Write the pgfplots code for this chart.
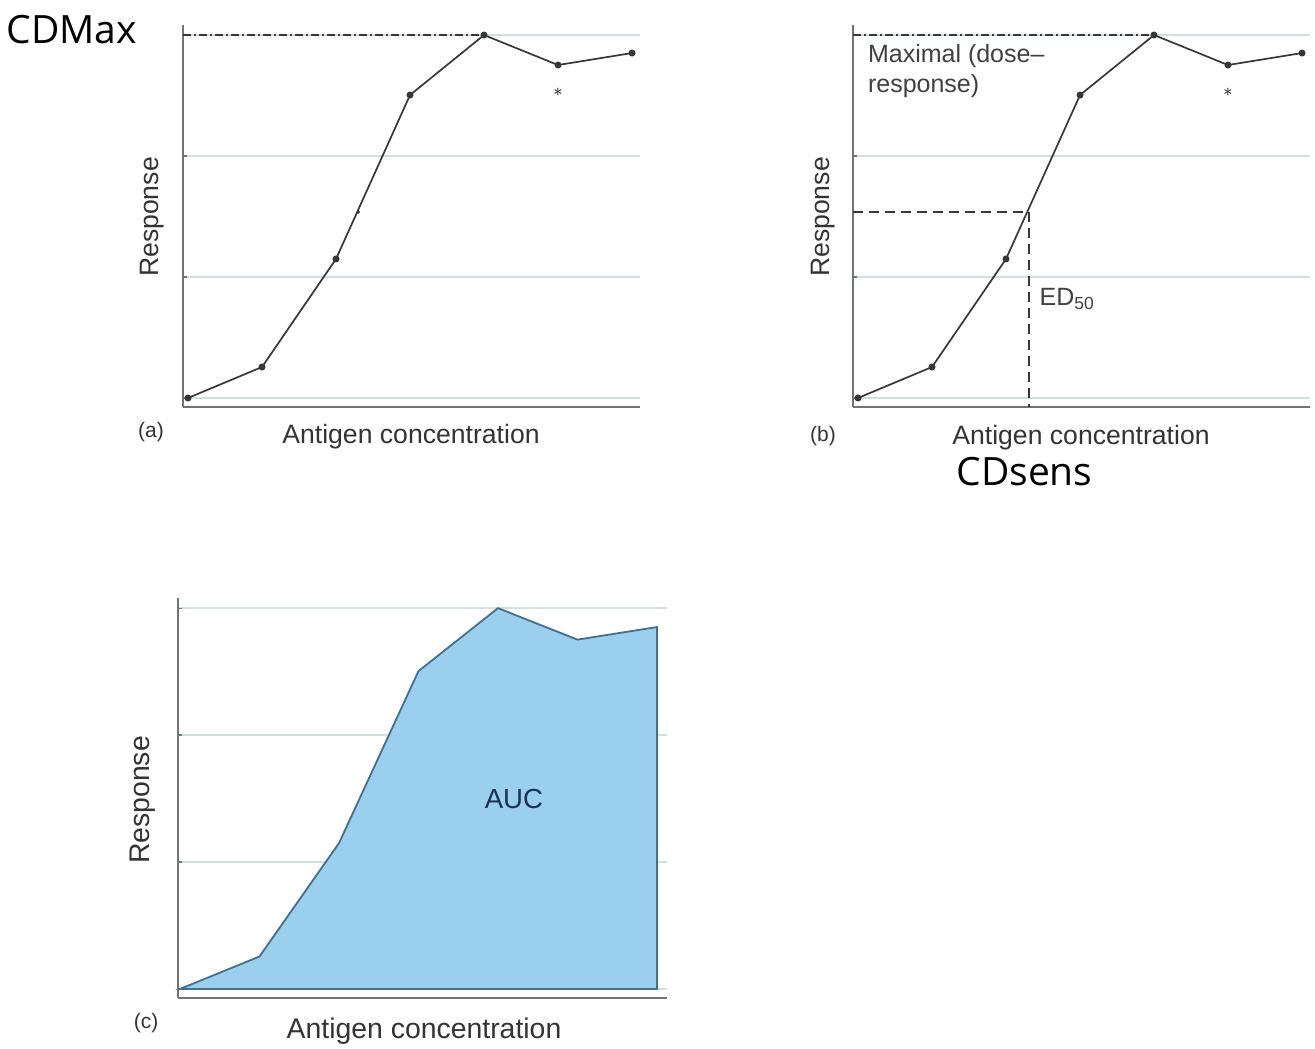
\documentclass[border=0pt]{standalone}
\usepackage{pgfplots}
\pgfplotsset{compat=1.18}
\usepackage{fontspec}
\setmainfont{Liberation Sans}
\newfontfamily\cdfont{Open Sans}
\definecolor{gridc}{RGB}{208,224,224}
\definecolor{axc}{RGB}{115,115,115}
\definecolor{linec}{RGB}{55,55,55}
\definecolor{fillc}{RGB}{154,208,238}
\definecolor{edgec}{RGB}{70,110,140}
\definecolor{aucc}{RGB}{25,50,80}

\pgfplotstableread{
x y
0 0
1 0.256
2 1.149
3 2.504
4 3.0
5 2.752
6 2.851
}\resp

\pgfplotsset{
  panel/.style={
    scale only axis,
    anchor=south west,
    axis x line*=bottom,
    axis y line*=left,
    axis line style={-, axc, line width=1.1pt},
    xtick=\empty,
    ytick={0,1,2,3},
    yticklabels={},
    tick align=inside,
    major tick length=2pt,
    tick style={axc, line width=0.6pt},
    ymajorgrids,
    grid style={gridc, line width=0.9pt},
    clip=false,
  },
}

\begin{document}
\begin{tikzpicture}[x=0.5pt,y=0.5pt]
\path[use as bounding box] (0,0) rectangle (1315,1048);

% ---------- panel (a) ----------
\begin{axis}[panel,
  at={(91.5pt,320.5pt)}, width=228.5pt, height=191pt,
  xmin=-0.0676, xmax=6.108, ymin=-0.0744, ymax=3.083]
\addplot[linec, line width=0.8pt, dash pattern=on 4pt off 1.5pt on 1pt off 1.5pt] coordinates {(-0.0676,3) (4,3)};
\addplot[linec, line width=0.85pt, mark=*, mark size=1.3pt, mark options={solid, fill=linec}] table[x=x,y=y] {\resp};
\addplot[only marks, linec, mark=*, mark size=0.7pt] coordinates {(2.30,1.537)};
\node[font=\small\bfseries] at (axis cs:5,2.53) {$\ast$};
\end{axis}

% ---------- panel (b) ----------
\begin{axis}[panel,
  at={(426.5pt,320.5pt)}, width=228.5pt, height=191pt,
  xmin=-0.0676, xmax=6.108, ymin=-0.0744, ymax=3.083]
\addplot[linec, line width=0.8pt, dash pattern=on 4pt off 1.5pt on 1pt off 1.5pt] coordinates {(-0.0676,3) (4,3)};
\addplot[linec, line width=0.7pt, dash pattern=on 5pt off 3pt] coordinates {(-0.0676,1.537) (2.31,1.537) (2.31,-0.0744)};
\addplot[linec, line width=0.85pt, mark=*, mark size=1.3pt, mark options={solid, fill=linec}] table[x=x,y=y] {\resp};
\node[font=\small\bfseries] at (axis cs:5,2.53) {$\ast$};
\node[anchor=north west, align=left, font=\fontsize{12.5}{15}\selectfont, text=black!75, inner sep=0pt] at (axis cs:0.13,2.93) {Maximal (dose--\\response)};
\node[anchor=west, font=\fontsize{12.5}{15}\selectfont, text=black!75, inner sep=0pt] at (axis cs:2.45,0.82) {ED\textsubscript{50}};
\end{axis}

% ---------- panel (c) ----------
\begin{axis}[panel,
  at={(89pt,25pt)}, width=244.5pt, height=200pt,
  xmin=-0.025, xmax=6.126, ymin=-0.071, ymax=3.08]
\addplot[fill=fillc, draw=edgec, line width=0.9pt] table[x=x,y=y] {\resp} |- (axis cs:0,0) -- cycle;
\node[text=aucc, font=\fontsize{13.8}{16}\selectfont] at (axis cs:4.2,1.5) {AUC};
\end{axis}

% ---------- labels ----------
\begin{scope}[every node/.style={text=black!80, font=\fontsize{13.3}{16}\selectfont}]
\node at (411,611) {Antigen concentration};
\node[rotate=90] at (152,831) {Response};
\node at (1081,610) {Antigen concentration};
\node[rotate=90] at (823,831) {Response};
\node[font=\fontsize{14.2}{17}\selectfont] at (424,17) {Antigen concentration};
\node[rotate=90, font=\fontsize{14.2}{17}\selectfont] at (143,248) {Response};
\node[font=\fontsize{10.5}{12}\selectfont] at (151,616) {(a)};
\node[font=\fontsize{10.5}{12}\selectfont] at (823,612) {(b)};
\node[font=\fontsize{10.5}{12}\selectfont] at (146,25) {(c)};
\end{scope}
\node[anchor=west, inner sep=0pt, font=\cdfont\fontsize{19.5}{22}\selectfont] at (6,1018) {CDMax};
\node[anchor=west, inner sep=0pt, font=\cdfont\fontsize{19.5}{22}\selectfont] at (956,576) {CDsens};
\end{tikzpicture}
\end{document}
